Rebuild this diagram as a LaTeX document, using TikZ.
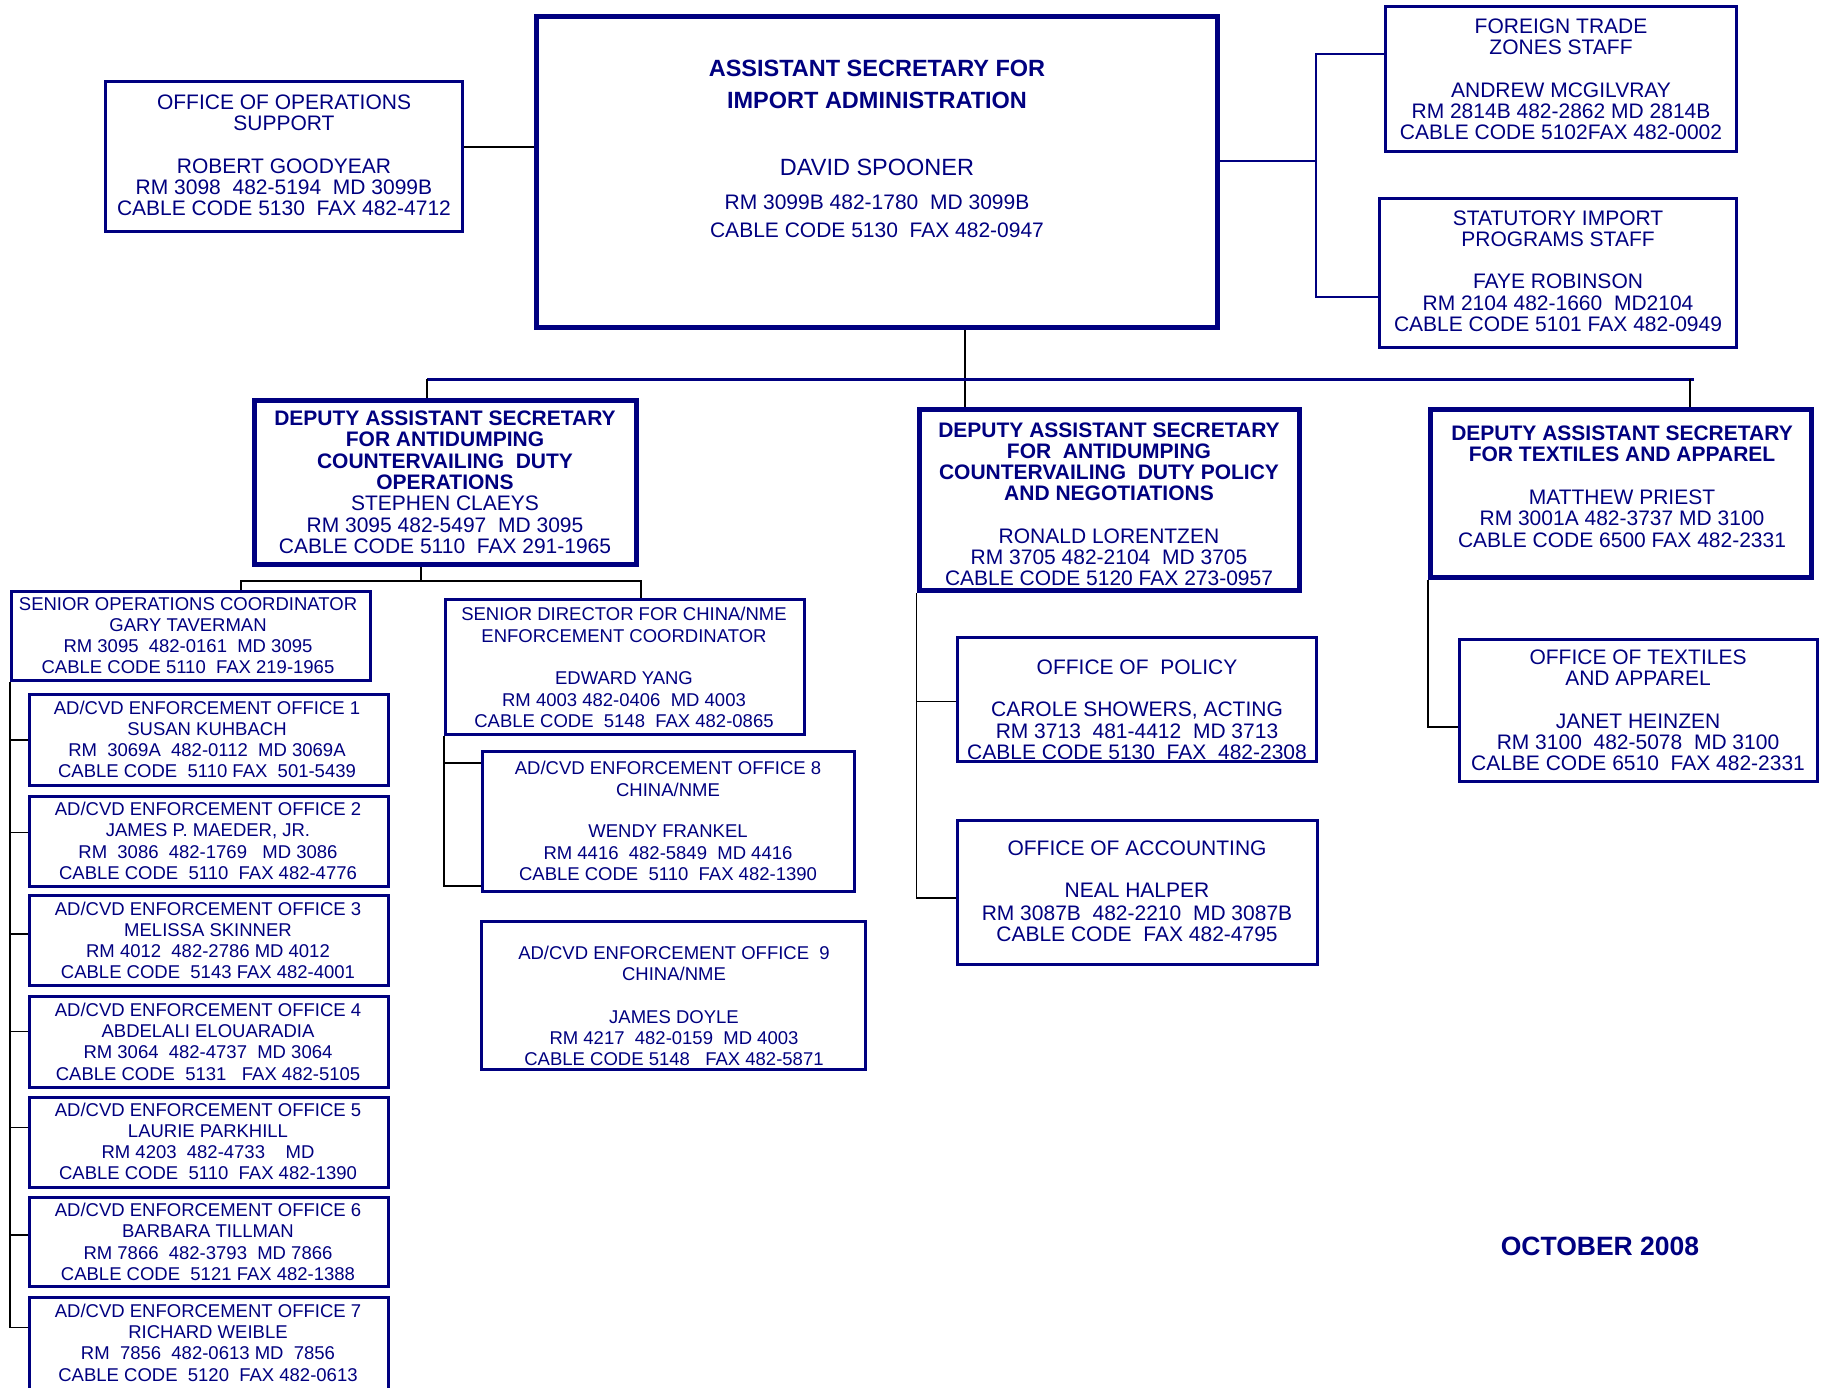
\documentclass[tikz,border=0pt]{standalone}
\usepackage{fontspec}
\setmainfont{Liberation Sans}
\definecolor{navy}{RGB}{0,0,128}
\newcommand\tlines[4]{\foreach \yy/\txt [count=\ii] in {#4} {\node[#1] (#2\ii) at (#3,\yy) {\txt};}}
\tikzset{
  txtbase/.style={text=navy, inner sep=0pt, text depth=0pt, anchor=center},
  r21/.style={txtbase, font=\fontsize{21}{21}\selectfont, text height=15.04pt},
  b21/.style={txtbase, font=\bfseries\fontsize{21}{21}\selectfont, text height=15.04pt},
  r185/.style={txtbase, font=\fontsize{18.5}{18.5}\selectfont, text height=13.25pt},
  r235/.style={txtbase, font=\fontsize{23.5}{23.5}\selectfont, text height=16.83pt},
  b235/.style={txtbase, font=\bfseries\fontsize{23.5}{23.5}\selectfont, text height=16.83pt},
  b265/.style={txtbase, font=\bfseries\fontsize{26.5}{26.5}\selectfont, text height=18.97pt},
  ubox/.style={draw=navy, line width=3pt, inner sep=0pt, rectangle},
  tbox/.style={draw=navy, line width=5pt, inner sep=0pt, rectangle},
  link/.style={draw=black, line width=1.3pt},
  nlink/.style={draw=navy, line width=2.8pt}
}
\begin{document}
\begin{tikzpicture}[x=1pt,y=-1pt]
\useasboundingbox (0,0) rectangle (1828,1388);
\fill[white] (0,0) rectangle (1828,1388);
\clip (0,0) rectangle (1828,1388);

% ---------- boxes ----------
\node[tbox, minimum width=681pt, minimum height=311pt] (main) at (877,172) {};
\node[ubox, minimum width=357pt, minimum height=150pt] (ops) at (284,156.5) {};
\node[ubox, minimum width=351pt, minimum height=145pt] (ftz) at (1561,79) {};
\node[ubox, minimum width=357pt, minimum height=149pt] (sip) at (1558,273) {};
\node[tbox, minimum width=382pt, minimum height=164pt] (das1) at (445.5,482.5) {};
\node[tbox, minimum width=380pt, minimum height=181pt] (das2) at (1109,500) {};
\node[tbox, minimum width=381pt, minimum height=168pt] (das3) at (1621,493.5) {};
\node[ubox, minimum width=359pt, minimum height=89pt] (senops) at (191,636) {};
\node[ubox, minimum width=359pt, minimum height=135pt] (sendir) at (625,667) {};
\node[ubox, minimum width=359pt, minimum height=91pt] (off1) at (209,740) {};
\node[ubox, minimum width=359pt, minimum height=89.5pt] (off2) at (209,841.25) {};
\node[ubox, minimum width=359pt, minimum height=89.6pt] (off3) at (209,940.7) {};
\node[ubox, minimum width=359pt, minimum height=90.5pt] (off4) at (209,1041.75) {};
\node[ubox, minimum width=359pt, minimum height=89.6pt] (off5) at (209,1142.3) {};
\node[ubox, minimum width=359pt, minimum height=89pt] (off6) at (209,1242) {};
\node[ubox, minimum width=359pt, minimum height=100.6pt] (off7) at (209,1348.2) {};
\node[ubox, minimum width=372pt, minimum height=140pt] (off8) at (668.5,821.5) {};
\node[ubox, minimum width=384pt, minimum height=148pt] (off9) at (673.5,995.5) {};
\node[ubox, minimum width=359pt, minimum height=124pt] (policy) at (1137,699.2) {};
\node[ubox, minimum width=360pt, minimum height=144pt] (acct) at (1137.5,892.2) {};
\node[ubox, minimum width=358pt, minimum height=142pt] (tex) at (1638.5,710.5) {};

% ---------- connectors ----------
\draw[link] (ops.east |- 0,147) -- (main.west |- 0,147);
\coordinate (jr) at (1316,161);
\draw[nlink] (main.east |- jr) -- (jr);
\draw[nlink] (ftz.west |- 0,54) -- (jr |- 0,54) -- (jr |- 0,297) -- (sip.west |- 0,297);
\draw[link] (main.south -| 965,0) -- (das2.north -| 965,0);
\coordinate (barL) at (427,379.3);
\coordinate (barR) at (1694,379.3);
\coordinate (barT) at (1690,379.3);
\draw[nlink] (barL) -- (barR);
\draw[link] (barL) -- (das1.north -| barL);
\draw[link] (barT) -- (das3.north -| barT);
% DAS1 subtree
\coordinate (d1) at (421,581);
\coordinate (h1) at (241,581);
\coordinate (h2) at (641,581);
\draw[link] (das1.south -| d1) -- (d1);
\draw[link] (senops.north -| h1) -- (h1) -- (h2) -- (sendir.north -| h2);
\draw[link] (senops.south west) -- (senops.south west |- 0,1327.7);
\foreach \n/\y in {1/740,2/832.6,3/934,4/1031.5,5/1127.5,6/1235,7/1327.7}
  \draw[link] (senops.south west |- 0,\y) -- (off\n.west |- 0,\y);
\draw[link] (sendir.south west) -- (sendir.south west |- 0,886) -- (off8.west |- 0,886);
\draw[link] (sendir.south west |- 0,763) -- (off8.west |- 0,763);
% DAS2 subtree
\draw[link] (das2.south west) -- (das2.south west |- 0,898) -- (acct.west |- 0,898);
\draw[link] (das2.south west |- 0,701.7) -- (policy.west |- 0,701.7);
% DAS3 subtree
\draw[link] (das3.south west) -- (das3.south west |- 0,727) -- (tex.west |- 0,727);

% ---------- texts ----------
\tlines{b235}{mainb}{877}{68/{ASSISTANT SECRETARY FOR},100/{IMPORT ADMINISTRATION}}
\tlines{r235}{mainn}{877}{167/{DAVID SPOONER}}
\tlines{r21}{mainr}{877}{202/{RM 3099B 482-1780~ MD 3099B},230/{CABLE CODE 5130~ FAX 482-0947}}

\tlines{r21}{opst}{284}{102/{OFFICE OF OPERATIONS},123/{SUPPORT},166/{ROBERT GOODYEAR},187/{RM 3098~ 482-5194~ MD 3099B},208/{CABLE CODE 5130~ FAX 482-4712}}

\tlines{r21}{ftzt}{1561}{25.7/{FOREIGN TRADE},47/{ZONES STAFF},89.6/{ANDREW MCGILVRAY},110.9/{RM 2814B 482-2862 MD 2814B},132.2/{CABLE CODE 5102FAX 482-0002}}

\tlines{r21}{sipt}{1558}{217.5/{STATUTORY IMPORT},238.8/{PROGRAMS STAFF},281.4/{FAYE ROBINSON},302.7/{RM 2104 482-1660~ MD2104},324/{CABLE CODE 5101 FAX 482-0949}}

\tlines{b21}{das1b}{445}{418/{DEPUTY ASSISTANT SECRETARY},439.3/{FOR ANTIDUMPING},460.6/{COUNTERVAILING~ DUTY},481.9/{OPERATIONS}}
\tlines{r21}{das1r}{445}{503.2/{STEPHEN CLAEYS},524.5/{RM 3095 482-5497~ MD 3095},545.8/{CABLE CODE 5110~ FAX 291-1965}}

\tlines{r185}{senopst}{188}{604/{SENIOR OPERATIONS COORDINATOR},625/{GARY TAVERMAN},646/{RM 3095~ 482-0161~ MD 3095},667/{CABLE CODE 5110~ FAX 219-1965}}

\tlines{r185}{sendirt}{624}{614.3/{SENIOR DIRECTOR FOR CHINA/NME},635.6/{ENFORCEMENT COORDINATOR},678.2/{EDWARD YANG},699.5/{RM 4003 482-0406~ MD 4003},720.8/{CABLE CODE~ 5148~ FAX 482-0865}}

\tlines{r185}{off1t}{207}{708/{AD/CVD ENFORCEMENT OFFICE 1},729/{SUSAN KUHBACH},750/{RM~ 3069A~ 482-0112~ MD 3069A},771/{CABLE CODE~ 5110 FAX~ 501-5439}}
\tlines{r185}{off2t}{208}{809/{AD/CVD ENFORCEMENT OFFICE 2},830/{JAMES P. MAEDER, JR.},852/{RM~ 3086~ 482-1769~~ MD 3086},873/{CABLE CODE~ 5110~ FAX 482-4776}}
\tlines{r185}{off3t}{208}{909/{AD/CVD ENFORCEMENT OFFICE 3},929.5/{MELISSA SKINNER},950.6/{RM 4012~ 482-2786 MD 4012},971.7/{CABLE CODE~ 5143 FAX 482-4001}}
\tlines{r185}{off4t}{208}{1009.6/{AD/CVD ENFORCEMENT OFFICE 4},1030.7/{ABDELALI ELOUARADIA},1051.9/{RM 3064~ 482-4737~ MD 3064},1073.4/{CABLE CODE~ 5131~~ FAX 482-5105}}
\tlines{r185}{off5t}{208}{1110/{AD/CVD ENFORCEMENT OFFICE 5},1131/{LAURIE PARKHILL},1152/{RM 4203~ 482-4733~~~ MD},1173/{CABLE CODE~ 5110~ FAX 482-1390}}
\tlines{r185}{off6t}{208}{1209.7/{AD/CVD ENFORCEMENT OFFICE 6},1231/{BARBARA TILLMAN},1252.4/{RM 7866~ 482-3793~ MD 7866},1274/{CABLE CODE~ 5121 FAX 482-1388}}
\tlines{r185}{off7t}{208}{1310.6/{AD/CVD ENFORCEMENT OFFICE 7},1331.8/{RICHARD WEIBLE},1353/{RM~ 7856~ 482-0613 MD~ 7856},1374.5/{CABLE CODE~ 5120~ FAX 482-0613}}

\tlines{r185}{off8t}{668}{768/{AD/CVD ENFORCEMENT OFFICE 8},790/{CHINA/NME},831/{WENDY FRANKEL},852.5/{RM 4416~ 482-5849~ MD 4416},874/{CABLE CODE~ 5110~ FAX 482-1390}}
\tlines{r185}{off9t}{674}{952.6/{AD/CVD ENFORCEMENT OFFICE~ 9},973.8/{CHINA/NME},1016.5/{JAMES DOYLE},1038/{RM 4217~ 482-0159~ MD 4003},1059/{CABLE CODE 5148~~ FAX 482-5871}}

\tlines{b21}{das2b}{1109}{430/{DEPUTY ASSISTANT SECRETARY},450.7/{FOR~ ANTIDUMPING},471.7/{COUNTERVAILING~ DUTY POLICY},493/{AND NEGOTIATIONS}}
\tlines{r21}{das2r}{1109}{536/{RONALD LORENTZEN},556.7/{RM 3705 482-2104~ MD 3705},578/{CABLE CODE 5120 FAX 273-0957}}

\tlines{r21}{policyt}{1137}{666.7/{OFFICE OF~ POLICY},709/{CAROLE SHOWERS, ACTING},730.7/{RM 3713~ 481-4412~ MD 3713},751.7/{CABLE CODE 5130~ FAX~ 482-2308}}
\tlines{r21}{acctt}{1137}{848/{OFFICE OF ACCOUNTING},890/{NEAL HALPER},912.5/{RM 3087B~ 482-2210~ MD 3087B},933.5/{CABLE CODE~ FAX 482-4795}}

\tlines{b21}{das3b}{1622}{433/{DEPUTY ASSISTANT SECRETARY},454/{FOR TEXTILES AND APPAREL}}
\tlines{r21}{das3r}{1622}{497/{MATTHEW PRIEST},518/{RM 3001A 482-3737 MD 3100},540/{CABLE CODE 6500 FAX 482-2331}}

\tlines{r21}{text}{1638}{656.7/{OFFICE OF TEXTILES},677.8/{AND APPAREL},720.7/{JANET HEINZEN},741.7/{RM 3100~ 482-5078~ MD 3100},762.7/{CALBE CODE 6510~ FAX 482-2331}}

\node[b265] (date) at (1600,1246) {OCTOBER 2008};
\end{tikzpicture}
\end{document}
